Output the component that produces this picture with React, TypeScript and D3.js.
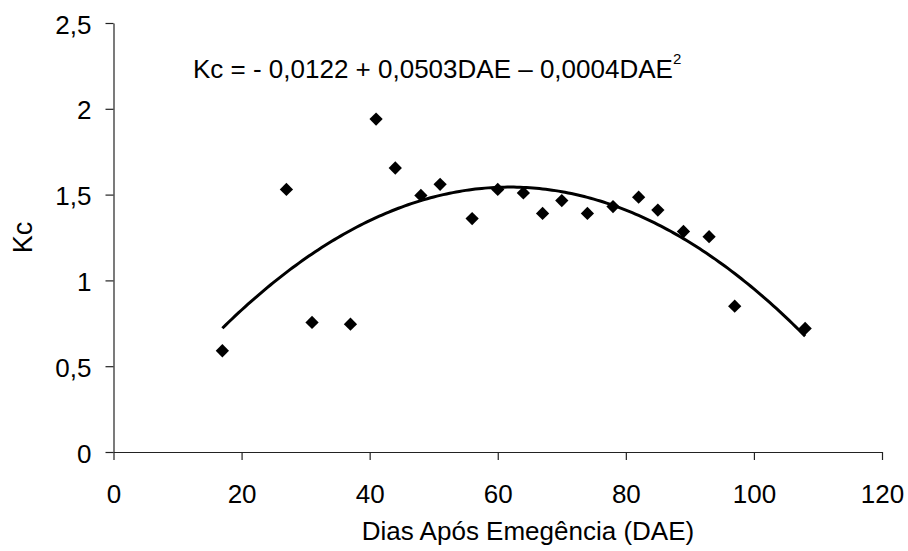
import React, { useEffect, useRef } from 'react';
import * as d3 from 'd3';

// dias após emergência e Kc observado
const dae = [17, 27, 31, 37, 41, 44, 48, 51, 56, 60, 64, 67, 70, 74, 78, 82, 85, 89, 93, 97, 108];
const kc = [0.59, 1.53, 0.755, 0.745, 1.94, 1.655, 1.495, 1.56, 1.36, 1.53, 1.51, 1.39, 1.465, 1.39, 1.43, 1.485, 1.41, 1.285, 1.255, 0.85, 0.72];

const xTicks = [0, 20, 40, 60, 80, 100, 120];
const yTicks = [0, 0.5, 1, 1.5, 2, 2.5];
const yTickLabels = ['0', '0,5', '1', '1,5', '2', '2,5'];

const width = 908;
const height = 551;
const font = '"Liberation Sans", Arial, sans-serif';

const x = d3.scaleLinear().domain([0, 120]).range([113.5, 882]);
const y = d3.scaleLinear().domain([0, 2.5]).range([452, 23]);

// least squares quadratic fit (same as the spreadsheet trendline)
function fitQuadratic(xs: number[], ys: number[]) {
    const s = [0, 0, 0, 0, 0];
    const t = [0, 0, 0];
    xs.forEach((xv, i) => {
        for (let k = 0; k < 5; k++) s[k] += Math.pow(xv, k);
        for (let k = 0; k < 3; k++) t[k] += ys[i] * Math.pow(xv, k);
    });
    const m = [
        [s[0], s[1], s[2], t[0]],
        [s[1], s[2], s[3], t[1]],
        [s[2], s[3], s[4], t[2]],
    ];
    for (let c = 0; c < 3; c++) {
        for (let r = c + 1; r < 3; r++) {
            const f = m[r][c] / m[c][c];
            for (let k = c; k < 4; k++) m[r][k] -= f * m[c][k];
        }
    }
    const b = [0, 0, 0];
    for (let r = 2; r >= 0; r--) {
        let v = m[r][3];
        for (let k = r + 1; k < 3; k++) v -= m[r][k] * b[k];
        b[r] = v / m[r][r];
    }
    return b;
}

const Chart = () => {
    const xAxisRef = useRef<SVGGElement>(null);
    const yAxisRef = useRef<SVGGElement>(null);

    useEffect(() => {
        const xa = d3.select(xAxisRef.current!);
        xa.call(d3.axisBottom(x).tickValues(xTicks).tickSize(8).tickSizeOuter(0).tickFormat(d => String(d)));
        xa.select('.domain').attr('stroke', '#222').attr('stroke-width', 1.2);
        xa.selectAll('.tick line').attr('stroke', '#222').attr('stroke-width', 1.2);
        xa.selectAll('.tick text')
            .attr('y', 51).attr('dy', null)
            .attr('fill', '#000')
            .style('font-family', font).style('font-size', '26px');

        const ya = d3.select(yAxisRef.current!);
        ya.call(d3.axisLeft(y).tickValues(yTicks).tickSize(8).tickSizeOuter(0).tickFormat((d, i) => yTickLabels[i]));
        ya.select('.domain').attr('stroke', '#222').attr('stroke-width', 1.2);
        ya.selectAll('.tick line').attr('stroke', '#222').attr('stroke-width', 1.2);
        ya.selectAll('.tick text')
            .attr('x', -22).attr('dy', 10)
            .attr('fill', '#000')
            .style('font-family', font).style('font-size', '26px');
    }, []);

    const coef = fitQuadratic(dae, kc);
    const trendX = d3.range(d3.min(dae)!, d3.max(dae)! + 0.01, 0.5);
    const trend = d3.line<number>()
        .x(d => x(d))
        .y(d => y(coef[0] + coef[1] * d + coef[2] * d * d))(trendX);

    const diamond = d3.symbol().type(d3.symbolSquare).size(88)();

    return (
        <svg width={width} height={height} style={{ position: 'absolute', left: 0, top: 0, background: '#fff' }}>
            <g ref={xAxisRef} transform={`translate(0,${y(0)})`} />
            <g ref={yAxisRef} transform={`translate(${x(0)},0)`} />
            <path d={trend ?? ''} fill="none" stroke="#000" strokeWidth={3} />
            {dae.map((d, i) => (
                <path key={i} d={diamond!} fill="#000"
                    transform={`translate(${x(d)},${y(kc[i])}) rotate(45)`} />
            ))}
            <text x={193} y={78} fontFamily={font} fontSize={26} fill="#000">
                Kc = - 0,0122 + 0,0503DAE – 0,0004DAE
                <tspan fontSize={15} dy={-14}>2</tspan>
            </text>
            <text x={528} y={540} textAnchor="middle" fontFamily={font} fontSize={26} fill="#000">
                Dias Após Emegência (DAE)
            </text>
            <text transform={`translate(32,${(y(0) + y(2.5)) / 2}) rotate(-90)`} textAnchor="middle"
                fontFamily={font} fontSize={27} fill="#000">
                Kc
            </text>
        </svg>
    );
};

export default function App() {
    return <Chart />;
}
